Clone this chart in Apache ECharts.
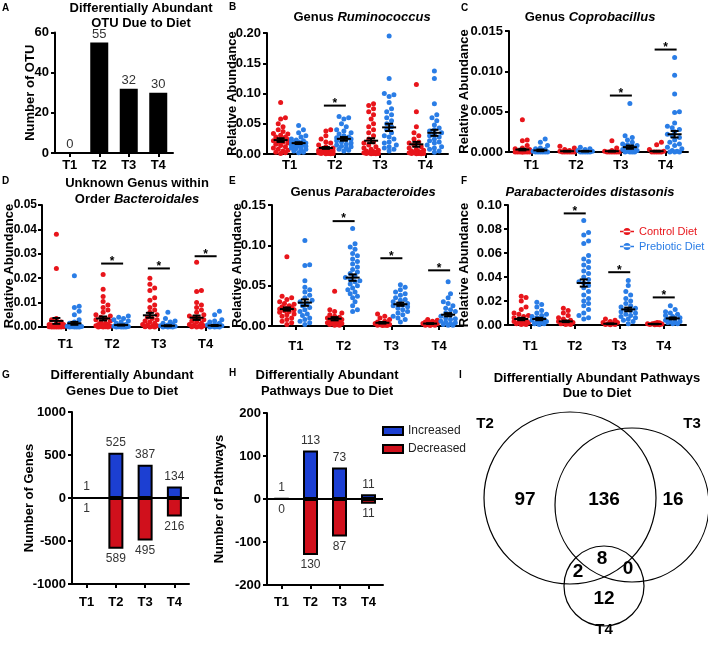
<!DOCTYPE html>
<html><head><meta charset="utf-8">
<script src="https://cdn.jsdelivr.net/npm/echarts@6/dist/echarts.min.js"></script>
<style>html,body{margin:0;padding:0;background:#fff}#c{width:708px;height:649px}</style>
</head><body><div id="c"></div>
<script>
// ---------------- DATA ----------------
const CATS = ['T1', 'T2', 'T3', 'T4'];
// A: differentially abundant OTU
const otuCounts = [0, 55, 32, 30];
// B: Genus Ruminococcus
const rumCtl = [
  [0.085,0.060,0.058,0.050,0.045,0.040,0.037,0.034,0.031,0.028,0.026,0.024,0.022,0.020,0.018,0.016,0.014,0.012,0.010,0.008,0.006,0.005,0.003,0.002,0.001,0.020,0.028,0.033],
  [0.040,0.038,0.030,0.025,0.020,0.018,0.015,0.012,0.010,0.009,0.008,0.007,0.006,0.005,0.005,0.004,0.003,0.003,0.002,0.002,0.001,0.001,0.001,0.0005,0.0005,0.004,0.006],
  [0.083,0.080,0.075,0.070,0.065,0.058,0.050,0.045,0.040,0.035,0.030,0.025,0.020,0.018,0.015,0.012,0.010,0.008,0.006,0.005,0.004,0.003,0.002,0.002,0.001,0.001,0.001,0.0005,0.0005,0.003],
  [0.115,0.070,0.045,0.035,0.030,0.025,0.020,0.018,0.015,0.012,0.010,0.008,0.006,0.005,0.004,0.003,0.002,0.002,0.001,0.001,0.0005,0.0005,0.001,0.003]
];
const rumPre = [
  [0.047,0.040,0.035,0.030,0.028,0.025,0.023,0.022,0.020,0.019,0.018,0.017,0.016,0.015,0.014,0.013,0.012,0.011,0.010,0.009,0.008,0.006,0.005,0.003,0.002,0.020,0.018],
  [0.062,0.060,0.058,0.050,0.045,0.040,0.038,0.035,0.033,0.030,0.028,0.027,0.026,0.025,0.024,0.022,0.020,0.018,0.016,0.015,0.013,0.012,0.010,0.008,0.006,0.005],
  [0.195,0.125,0.100,0.098,0.095,0.085,0.075,0.070,0.065,0.060,0.055,0.050,0.045,0.040,0.035,0.030,0.028,0.025,0.020,0.018,0.015,0.012,0.010,0.008,0.005],
  [0.137,0.125,0.083,0.065,0.060,0.055,0.048,0.043,0.040,0.038,0.035,0.032,0.030,0.028,0.025,0.022,0.020,0.018,0.015,0.012,0.010,0.008,0.005,0.003]
];
const rumCtlMean = [0.023, 0.010, 0.022, 0.016], rumCtlSem = [0.003, 0.0015, 0.004, 0.004];
const rumPreMean = [0.018, 0.025, 0.044, 0.035], rumPreSem = [0.0015, 0.003, 0.006, 0.005];
const rumSig = [null, 0.080, null, null];
// C: Genus Coprobacillus
const copCtl = [
  [0.004,0.0015,0.0014,0.0008,0.0005,0.0004,0.0003,0.0002,0.0002,0.0001,0.0001,0.0001,0,0,0,0,0,0,0,0],
  [0.0007,0.0005,0.0003,0.0002,0.0001,0.0001,0,0,0,0,0,0],
  [0.0014,0.0005,0.0002,0.0001,0,0,0,0,0,0],
  [0.0012,0.0009,0.0003,0.0001,0,0,0,0,0]
];
const copPre = [
  [0.0016,0.0012,0.0008,0.0005,0.0004,0.0003,0.0002,0.0002,0.0001,0.0001,0,0,0,0,0,0],
  [0.0006,0.0004,0.0003,0.0002,0.0001,0,0,0,0,0],
  [0.006,0.002,0.0018,0.0015,0.0012,0.001,0.0009,0.0008,0.0007,0.0006,0.0005,0.0004,0.0003,0.0002,0.0001,0,0,0,0],
  [0.0117,0.0095,0.0072,0.005,0.0049,0.0036,0.0032,0.003,0.0028,0.0025,0.0022,0.002,0.0018,0.0015,0.0012,0.001,0.0008,0.0006,0.0004,0.0002,0.0001,0,0,0]
];
const copCtlMean = [0.0003, 0.0001, 0.0001, 0.0001], copCtlSem = [0.0001, 0.00004, 0.00005, 0.00005];
const copPreMean = [0.0002, 0.0001, 0.0006, 0.0022], copPreSem = [0.0001, 0.00004, 0.0002, 0.0004];
const copSig = [null, null, 0.0070, 0.0127];
// D: Unknown genus within order Bacteroidales
const bacCtl = [
  [0.038,0.024,0.0035,0.003,0.002,0.0015,0.001,0.001,0.0008,0.0005,0.0005,0.0003,0.0002,0.0001,0.0001,0,0,0,0,0],
  [0.0215,0.0155,0.0125,0.0105,0.009,0.008,0.007,0.006,0.005,0.0045,0.004,0.0035,0.003,0.0025,0.002,0.0015,0.001,0.001,0.0008,0.0005,0.0003,0.0002,0.0001,0,0,0],
  [0.020,0.0175,0.016,0.015,0.012,0.011,0.009,0.008,0.007,0.006,0.005,0.004,0.0035,0.003,0.0025,0.002,0.0015,0.001,0.0008,0.0005,0.0003,0.0001,0,0],
  [0.0265,0.015,0.0145,0.010,0.009,0.008,0.007,0.006,0.005,0.0045,0.004,0.0035,0.003,0.0025,0.002,0.0015,0.001,0.0008,0.0005,0.0003,0.0001,0,0]
];
const bacPre = [
  [0.021,0.0085,0.008,0.0065,0.005,0.003,0.002,0.0015,0.001,0.0008,0.0005,0.0003,0.0002,0.0001,0,0,0,0],
  [0.0045,0.004,0.0035,0.003,0.0025,0.002,0.0015,0.001,0.0008,0.0005,0.0003,0.0002,0.0001,0,0,0,0],
  [0.006,0.0035,0.0025,0.002,0.0015,0.001,0.0008,0.0005,0.0003,0.0002,0.0001,0,0,0],
  [0.0065,0.005,0.003,0.0025,0.002,0.0015,0.001,0.0008,0.0005,0.0003,0.0001,0,0,0]
];
const bacCtlMean = [0.0025, 0.0035, 0.0048, 0.0038], bacCtlSem = [0.0012, 0.0008, 0.001, 0.0009];
const bacPreMean = [0.0015, 0.0008, 0.0005, 0.0006], bacPreSem = [0.0006, 0.0002, 0.0002, 0.0002];
const bacSig = [null, 0.026, 0.024, 0.029];
// E: Genus Parabacteroides
const parCtl = [
  [0.086,0.037,0.035,0.033,0.030,0.028,0.027,0.025,0.024,0.023,0.022,0.021,0.020,0.019,0.018,0.017,0.015,0.014,0.012,0.010,0.008,0.006,0.004,0.002],
  [0.043,0.020,0.018,0.016,0.014,0.012,0.011,0.010,0.009,0.008,0.007,0.006,0.005,0.005,0.004,0.003,0.003,0.002,0.002,0.001,0.001],
  [0.015,0.012,0.010,0.008,0.006,0.005,0.004,0.003,0.003,0.002,0.002,0.001,0.001,0.0005,0.0005],
  [0.008,0.007,0.006,0.005,0.004,0.004,0.003,0.003,0.002,0.002,0.001,0.001,0.0005]
];
const parPre = [
  [0.106,0.076,0.075,0.056,0.048,0.045,0.042,0.038,0.035,0.032,0.030,0.028,0.025,0.023,0.020,0.018,0.015,0.013,0.010,0.008,0.006,0.004,0.002],
  [0.121,0.102,0.098,0.095,0.090,0.087,0.083,0.080,0.077,0.073,0.070,0.067,0.065,0.062,0.060,0.058,0.056,0.055,0.052,0.050,0.047,0.045,0.042,0.040,0.037,0.035,0.030,0.025,0.020,0.018],
  [0.051,0.048,0.045,0.042,0.040,0.038,0.035,0.033,0.032,0.030,0.028,0.027,0.026,0.025,0.024,0.022,0.020,0.018,0.016,0.014,0.012,0.010,0.008,0.005],
  [0.055,0.040,0.035,0.030,0.028,0.025,0.022,0.020,0.018,0.016,0.014,0.012,0.010,0.009,0.008,0.006,0.005,0.004,0.003,0.002,0.001,0.001]
];
const parCtlMean = [0.021, 0.009, 0.004, 0.003], parCtlSem = [0.002, 0.002, 0.001, 0.0005];
const parPreMean = [0.029, 0.060, 0.027, 0.014], parPreSem = [0.004, 0.004, 0.002, 0.002];
const parSig = [null, 0.130, 0.084, 0.069];
// F: Parabacteroides distasonis
const disCtl = [
  [0.024,0.023,0.020,0.015,0.013,0.010,0.009,0.008,0.007,0.006,0.005,0.004,0.003,0.003,0.002,0.002,0.001,0.001,0.0005,0.0005],
  [0.014,0.012,0.010,0.008,0.006,0.005,0.004,0.003,0.003,0.002,0.002,0.001,0.001,0.0005,0.0005],
  [0.005,0.004,0.003,0.002,0.002,0.001,0.001,0.0005,0.0005,0.0002],
  [0.002,0.0018,0.0015,0.001,0.001,0.0008,0.0005,0.0005,0.0003,0.0002]
];
const disPre = [
  [0.019,0.017,0.015,0.012,0.010,0.009,0.008,0.007,0.006,0.005,0.004,0.004,0.003,0.002,0.002,0.001,0.001,0.0005],
  [0.087,0.077,0.075,0.070,0.068,0.058,0.055,0.053,0.050,0.048,0.045,0.043,0.040,0.038,0.036,0.035,0.033,0.031,0.028,0.025,0.022,0.020,0.018,0.016,0.013,0.010,0.008,0.006,0.005],
  [0.037,0.033,0.028,0.025,0.022,0.020,0.018,0.016,0.015,0.014,0.013,0.012,0.011,0.010,0.009,0.008,0.007,0.006,0.005,0.004,0.003,0.001],
  [0.016,0.013,0.011,0.010,0.009,0.008,0.007,0.006,0.005,0.005,0.004,0.003,0.003,0.002,0.002,0.001,0.001]
];
const disCtlMean = [0.005, 0.003, 0.001, 0.0008], disCtlSem = [0.001, 0.0006, 0.0003, 0.0002];
const disPreMean = [0.005, 0.035, 0.013, 0.0055], disPreSem = [0.001, 0.003, 0.0015, 0.0008];
const disSig = [null, 0.093, 0.044, 0.023];
// G: genes
const geneInc = [1, 525, 387, 134];
const geneDec = [1, 589, 495, 216];
// H: pathways
const pathInc = [1, 113, 73, 11];
const pathDec = [0, 130, 87, 11];
// I: Venn
const vennSets = ['T2', 'T3', 'T4'];
const vennRegions = ['T2 only', 'T2&T3', 'T3 only', 'T2&T3&T4', 'T2&T4', 'T3&T4', 'T4 only'];
const vennCounts = [97, 136, 16, 8, 2, 0, 12];

// ---------------- STYLE / LAYOUT ----------------
const F = '"Liberation Sans", Arial, Helvetica, sans-serif';
const RED = '#e8151b', BLUE = '#2a7de6';
const BAR_BLUE = '#1c3fd2', BAR_RED = '#d0101c';
const GOFF = 9;
const grids = [
  {left: 55, top: 32.5, width: 118, height: 120.5},  // A
  {left: 267, top: 33, width: 181, height: 121},    // B
  {left: 509, top: 31, width: 179, height: 121},    // C
  {left: 42, top: 205, width: 187, height: 122},    // D
  {left: 272, top: 205, width: 191, height: 121},   // E
  {left: 508, top: 205, width: 178, height: 120},   // F
  {left: 72, top: 412, width: 117, height: 172},    // G
  {left: 267, top: 413, width: 116, height: 172}    // H
];

function yAx(gi, min, max, interval, dec, name, gap, lblSize, lblMargin) {
  return {
    type: 'value', gridIndex: gi, min, max, interval, name, nameLocation: 'middle', nameGap: gap,
    nameMoveOverlap: false,
    nameTextStyle: {fontFamily: F, fontWeight: 'bold', fontSize: 13, color: '#000'},
    axisLine: {show: true, lineStyle: {color: '#000', width: 2}},
    axisTick: {show: true, length: 4, lineStyle: {color: '#000', width: 2}},
    axisLabel: {fontFamily: F, fontWeight: 'bold', fontSize: lblSize || 13, color: '#000', margin: lblMargin || 6,
      formatter: v => Number(v).toFixed(dec)},
    splitLine: {show: false}
  };
}
function xAx(gi, margin) {
  return {
    type: 'category', gridIndex: gi, data: CATS, boundaryGap: true,
    axisLine: {show: true, onZero: false, lineStyle: {color: '#000', width: 2}},
    axisTick: {show: true, alignWithLabel: true, length: 4, lineStyle: {color: '#000', width: 2}},
    axisLabel: {fontFamily: F, fontWeight: 'bold', fontSize: 13, color: '#000', margin},
    splitLine: {show: false}
  };
}

// simple deterministic beeswarm (pixel offsets)
function swarm(vals, ppu, maxHalf) {
  const idx = vals.map((v, i) => i).sort((a, b) => vals[a] - vals[b]);
  const placed = [], out = new Array(vals.length), step = 2.4, minDist = 4.6;
  const nK = Math.floor(maxHalf / step) * 2;
  for (const i of idx) {
    const y = vals[i] * ppu;
    let best = 0, bestScore = -1;
    for (let k = 0; k <= nK; k++) {
      const dx = (k % 2 ? 1 : -1) * Math.ceil(k / 2) * step;
      let md = Infinity;
      for (const p of placed) { const d = Math.hypot(p[0] - dx, p[1] - y); if (d < md) md = d; }
      if (md >= minDist) { best = dx; bestScore = Infinity; break; }
      if (md > bestScore) { bestScore = md; best = dx; }
    }
    placed.push([best, y]);
    out[i] = best;
  }
  return out;
}

function renderMS(params, api) {
  const cat = api.value(0), m = api.value(1), s = api.value(2), side = api.value(3);
  const p = api.coord([cat, m]);
  const x = p[0] + side * GOFF;
  const yh = api.coord([cat, m + s])[1];
  const yl = api.coord([cat, Math.max(0, m - s)])[1];
  const ls = {stroke: '#000', lineWidth: 2};
  return {type: 'group', children: [
    {type: 'line', shape: {x1: x - 7, y1: p[1], x2: x + 7, y2: p[1]}, style: ls},
    {type: 'line', shape: {x1: x, y1: yh, x2: x, y2: yl}, style: ls},
    {type: 'line', shape: {x1: x - 4, y1: yh, x2: x + 4, y2: yh}, style: ls},
    {type: 'line', shape: {x1: x - 4, y1: yl, x2: x + 4, y2: yl}, style: ls}
  ]};
}
function renderSig(params, api) {
  const p = api.coord([api.value(0), api.value(1)]);
  return {type: 'group', children: [
    {type: 'line', shape: {x1: p[0] - 11, y1: p[1], x2: p[0] + 11, y2: p[1]}, style: {stroke: '#000', lineWidth: 2}},
    {type: 'text', x: p[0], y: p[1] - 2, style: {text: '*', font: 'bold 12px ' + F, fill: '#000', align: 'center', verticalAlign: 'middle', textAlign: 'center', textVerticalAlign: 'middle'}}
  ]};
}

function dotPanel(gi, yMax, ctl, pre, cM, cS, pM, pS, sig) {
  const ppu = grids[gi].height / yMax;
  const out = [];
  [[ctl, RED, 'Control Diet', -1], [pre, BLUE, 'Prebiotic Diet', 1]].forEach(([groups, color, name, side]) => {
    const data = [];
    groups.forEach((vals, c) => {
      const offs = swarm(vals, ppu, 7.5);
      vals.forEach((v, k) => data.push({value: [c, v], symbolOffset: [side * GOFF + offs[k], 0]}));
    });
    out.push({type: 'scatter', name, xAxisIndex: gi, yAxisIndex: gi, data, symbol: 'circle', symbolSize: 5,
      itemStyle: {color, opacity: 1}, z: 2, silent: true, clip: false});
  });
  const ms = [];
  CATS.forEach((_, c) => { ms.push([c, cM[c], cS[c], -1]); ms.push([c, pM[c], pS[c], 1]); });
  out.push({type: 'custom', xAxisIndex: gi, yAxisIndex: gi, data: ms, renderItem: renderMS, z: 5, silent: true,
    encode: {x: 0, y: 1}});
  const sd = [];
  sig.forEach((v, c) => { if (v != null) sd.push([c, v]); });
  out.push({type: 'custom', xAxisIndex: gi, yAxisIndex: gi, data: sd, renderItem: renderSig, z: 5, silent: true,
    encode: {x: 0, y: 1}});
  return out;
}

function barPair(gi, inc, dec) {
  const lbl = {show: true, fontFamily: F, fontSize: 12, color: '#333', distance: 4, formatter: p => Math.abs(p.value)};
  return [
    {type: 'bar', name: 'Increased', xAxisIndex: gi, yAxisIndex: gi, data: inc, barWidth: 15, barGap: '-100%',
      itemStyle: {color: BAR_BLUE, borderColor: '#000', borderWidth: 2},
      label: Object.assign({position: 'top'}, lbl),
      markLine: {silent: true, symbol: 'none', label: {show: false}, lineStyle: {color: '#000', width: 2, type: 'solid'},
        data: [{yAxis: 0}], animation: false}},
    {type: 'bar', name: 'Decreased', xAxisIndex: gi, yAxisIndex: gi, data: dec.map(v => -v), barWidth: 15, barGap: '-100%',
      itemStyle: {color: BAR_RED, borderColor: '#000', borderWidth: 2},
      label: Object.assign({position: 'bottom'}, lbl)}
  ];
}

// text helpers
function txt(x, y, text, size, weight) {
  return {type: 'text', x, y, silent: true, style: {text, fill: '#000',
    font: (weight || 'bold') + ' ' + size + 'px ' + F,
    align: 'center', verticalAlign: 'middle', textAlign: 'center', textVerticalAlign: 'middle'}};
}
function richTxt(x, y, text) {
  return {type: 'text', x, y, silent: true, style: {text, fill: '#000', align: 'center', verticalAlign: 'middle',
    textAlign: 'center', textVerticalAlign: 'middle',
    rich: {b: {fontFamily: F, fontWeight: 'bold', fontSize: 13, fill: '#000', color: '#000'},
           i: {fontFamily: F, fontWeight: 'bold', fontStyle: 'italic', fontSize: 13, fill: '#000', color: '#000'}}}};
}
function letter(x, y, t) {
  return {type: 'text', x, y, silent: true, style: {text: t, fill: '#000', font: 'bold 10px ' + F}};
}

// Venn layout (schematic positions)
const vennCircles = [[570, 498, 86], [632, 505, 77], [604, 586, 40]];
const vennSetLabelPos = [[485, 424], [692, 424], [604, 630]];
const vennCountPos = [[525, 500], [604, 500], [673, 500], [602, 559], [578, 572], [628, 569], [604, 599]];

const graphic = [
  letter(2, 3, 'A'), letter(229, 2, 'B'), letter(461, 3, 'C'),
  letter(2, 176, 'D'), letter(229, 176, 'E'), letter(461, 176, 'F'),
  letter(2, 370, 'G'), letter(229, 368, 'H'), letter(459, 370, 'I'),
  txt(141, 8, 'Differentially Abundant', 13), txt(141, 23, 'OTU Due to Diet', 13),
  richTxt(362, 17, '{b|Genus }{i|Ruminococcus}'),
  richTxt(590, 17, '{b|Genus }{i|Coprobacillus}'),
  txt(137, 183, 'Unknown Genus within', 13), richTxt(137, 199, '{b|Order }{i|Bacteroidales}'),
  richTxt(363, 192, '{b|Genus }{i|Parabacteroides}'),
  richTxt(590, 192, '{i|Parabacteroides distasonis}'),
  txt(122, 375, 'Differentially Abundant', 13), txt(122, 391, 'Genes Due to Diet', 13),
  txt(327, 375, 'Differentially Abundant', 13), txt(327, 391, 'Pathways Due to Diet', 13),
  txt(597, 378, 'Differentially Abundant Pathways', 13), txt(597, 393, 'Due to Diet', 13)
];
vennCircles.forEach(c => graphic.push({type: 'circle', silent: true, shape: {cx: c[0], cy: c[1], r: c[2]},
  style: {fill: 'none', stroke: '#000', lineWidth: 1.2}}));
vennSets.forEach((s, i) => graphic.push(txt(vennSetLabelPos[i][0], vennSetLabelPos[i][1], s, 15)));
vennCounts.forEach((n, i) => graphic.push(txt(vennCountPos[i][0], vennCountPos[i][1], String(n), 19)));

const series = [
  {type: 'bar', xAxisIndex: 0, yAxisIndex: 0, data: otuCounts, barWidth: 18, itemStyle: {color: '#000'},
    label: {show: true, position: 'top', distance: 2, fontFamily: F, fontSize: 13, color: '#333'}},
  ...dotPanel(1, 0.20, rumCtl, rumPre, rumCtlMean, rumCtlSem, rumPreMean, rumPreSem, rumSig),
  ...dotPanel(2, 0.015, copCtl, copPre, copCtlMean, copCtlSem, copPreMean, copPreSem, copSig),
  ...dotPanel(3, 0.05, bacCtl, bacPre, bacCtlMean, bacCtlSem, bacPreMean, bacPreSem, bacSig),
  ...dotPanel(4, 0.15, parCtl, parPre, parCtlMean, parCtlSem, parPreMean, parPreSem, parSig),
  ...dotPanel(5, 0.10, disCtl, disPre, disCtlMean, disCtlSem, disPreMean, disPreSem, disSig),
  ...barPair(6, geneInc, geneDec),
  ...barPair(7, pathInc, pathDec)
];

const option = {
  animation: false,
  backgroundColor: '#fff',
  textStyle: {fontFamily: F},
  grid: grids.map(g => Object.assign({containLabel: false, outerBoundsMode: 'none'}, g)),
  xAxis: [xAx(0, 6), xAx(1, 5), xAx(2, 7), xAx(3, 11), xAx(4, 14), xAx(5, 15), xAx(6, 12), xAx(7, 11)],
  yAxis: [
    yAx(0, 0, 60, 20, 0, 'Number of OTU', 18.5),
    yAx(1, 0, 0.20, 0.05, 2, 'Relative Abundance', 28.5),
    yAx(2, 0, 0.015, 0.005, 3, 'Relative Abundance', 38.5),
    yAx(3, 0, 0.05, 0.01, 2, 'Relative Abundance', 26.5, 12, 5),
    yAx(4, 0, 0.15, 0.05, 2, 'Relative Abundance', 28.5),
    yAx(5, 0, 0.10, 0.02, 2, 'Relative Abundance', 37.5),
    yAx(6, -1000, 1000, 500, 0, 'Number of Genes', 36.5),
    yAx(7, -200, 200, 100, 0, 'Number of Pathways', 41.5)
  ],
  legend: [
    {left: 615, top: 221, orient: 'vertical', itemGap: 4, itemWidth: 14, itemHeight: 7, selectedMode: false,
      icon: 'path://M0,3.2H16V4.8H0Z M4,4A4,4 0 1,0 12,4A4,4 0 1,0 4,4Z',
      itemStyle: {borderWidth: 0},
      data: [{name: 'Control Diet', textStyle: {color: RED}}, {name: 'Prebiotic Diet', textStyle: {color: BLUE}}],
      textStyle: {fontFamily: F, fontSize: 11}},
    {left: 377, top: 420, orient: 'vertical', itemGap: 6, itemWidth: 20, itemHeight: 8, selectedMode: false,
      icon: 'rect', itemStyle: {borderColor: '#000', borderWidth: 2},
      data: ['Increased', 'Decreased'],
      textStyle: {fontFamily: F, fontSize: 12, color: '#222'}}
  ],
  graphic,
  series
};

const chart = echarts.init(document.getElementById('c'), null, {renderer: 'canvas', width: 708, height: 649});
chart.setOption(option);
</script>
</body></html>
